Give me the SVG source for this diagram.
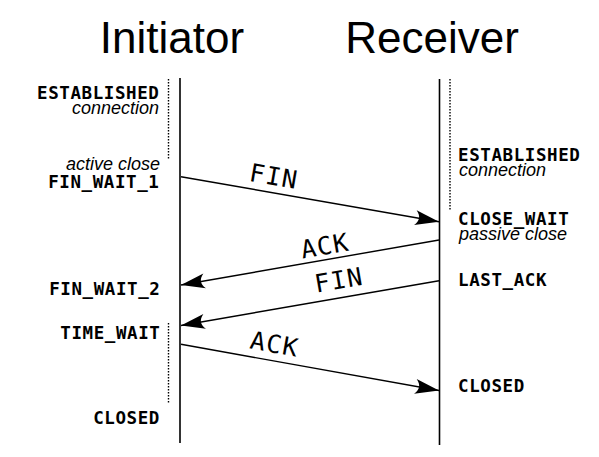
<svg xmlns="http://www.w3.org/2000/svg" width="599" height="457" viewBox="0 0 599 457">
<style>
.title{font-family:"Liberation Sans",Arial,sans-serif;font-size:44px;fill:#000;text-anchor:middle}
.state{font-family:"DejaVu Sans Mono",monospace;font-weight:bold;font-size:17.5px;letter-spacing:0.6px;fill:#000}
.note{font-family:"Liberation Sans",Arial,sans-serif;font-style:italic;font-size:18px;fill:#000}
.end{text-anchor:end}
.msg{font-family:"DejaVu Sans Mono",monospace;font-size:25px;letter-spacing:1.3px;fill:#000;text-anchor:middle}
.life{stroke:#000;stroke-width:1.6;fill:none}
.dot{stroke:#000;stroke-width:1.4;stroke-dasharray:1.4 1.6;fill:none}
.arrow{stroke:#000;stroke-width:1.4;fill:none;marker-end:url(#ah)}
</style>
<defs>
<marker id="ah" viewBox="-26 -10 28 20" refX="0" refY="0" markerWidth="28" markerHeight="20" markerUnits="userSpaceOnUse" orient="auto">
<path d="M0,0 L-24,-7.5 C-19,-2.5 -19,2.5 -24,7.5 Z" fill="#000"/>
</marker>
</defs>
<rect width="599" height="457" fill="#fff"/>
<g id="initiator">
<text class="title" x="172" y="53">Initiator</text>
<line class="life" x1="180" y1="78" x2="180" y2="443"/>
</g>
<g id="receiver">
<text class="title" x="432" y="53">Receiver</text>
<line class="life" x1="439.5" y1="79" x2="439.5" y2="445"/>
</g>
<g id="init-established">
<line class="dot" x1="168.5" y1="79" x2="168.5" y2="160"/>
<text class="state end" x="159.5" y="98.5">ESTABLISHED</text>
<text class="note end" x="159" y="114">connection</text>
</g>
<g id="init-fin-wait-1">
<text class="note end" x="160" y="170">active close</text>
<text class="state end" x="159.5" y="188">FIN_WAIT_1</text>
</g>
<g id="init-fin-wait-2">
<text class="state end" x="160.5" y="295">FIN_WAIT_2</text>
</g>
<g id="init-time-wait">
<line class="dot" x1="168.5" y1="323" x2="168.5" y2="404"/>
<text class="state end" x="160.5" y="338.5">TIME_WAIT</text>
</g>
<g id="init-closed">
<text class="state end" x="160" y="423.5">CLOSED</text>
</g>
<g id="recv-established">
<line class="dot" x1="450" y1="79" x2="450" y2="211"/>
<text class="state" x="458" y="161">ESTABLISHED</text>
<text class="note" x="459" y="176">connection</text>
</g>
<g id="recv-close-wait">
<text class="state" x="458" y="224.5">CLOSE_WAIT</text>
<text class="note" x="459" y="240">passive close</text>
</g>
<g id="recv-last-ack">
<text class="state" x="458" y="286">LAST_ACK</text>
</g>
<g id="recv-closed">
<text class="state" x="458" y="392">CLOSED</text>
</g>
<g id="connectors">
<line class="arrow" x1="181" y1="176.7" x2="439" y2="221.7"/>
<text class="msg" transform="translate(274,176) rotate(9.9)" y="9">FIN</text>
<line class="arrow" x1="439" y1="240" x2="181" y2="285"/>
<text class="msg" transform="translate(325,245.5) rotate(-9.9)" y="9">ACK</text>
<line class="arrow" x1="439" y1="280.7" x2="181" y2="325.5"/>
<text class="msg" transform="translate(339,279.7) rotate(-9.85)" y="9">FIN</text>
<line class="arrow" x1="181" y1="344.3" x2="439" y2="390.5"/>
<text class="msg" transform="translate(274.7,343.8) rotate(10.15)" y="9">ACK</text>
</g>
</svg>
